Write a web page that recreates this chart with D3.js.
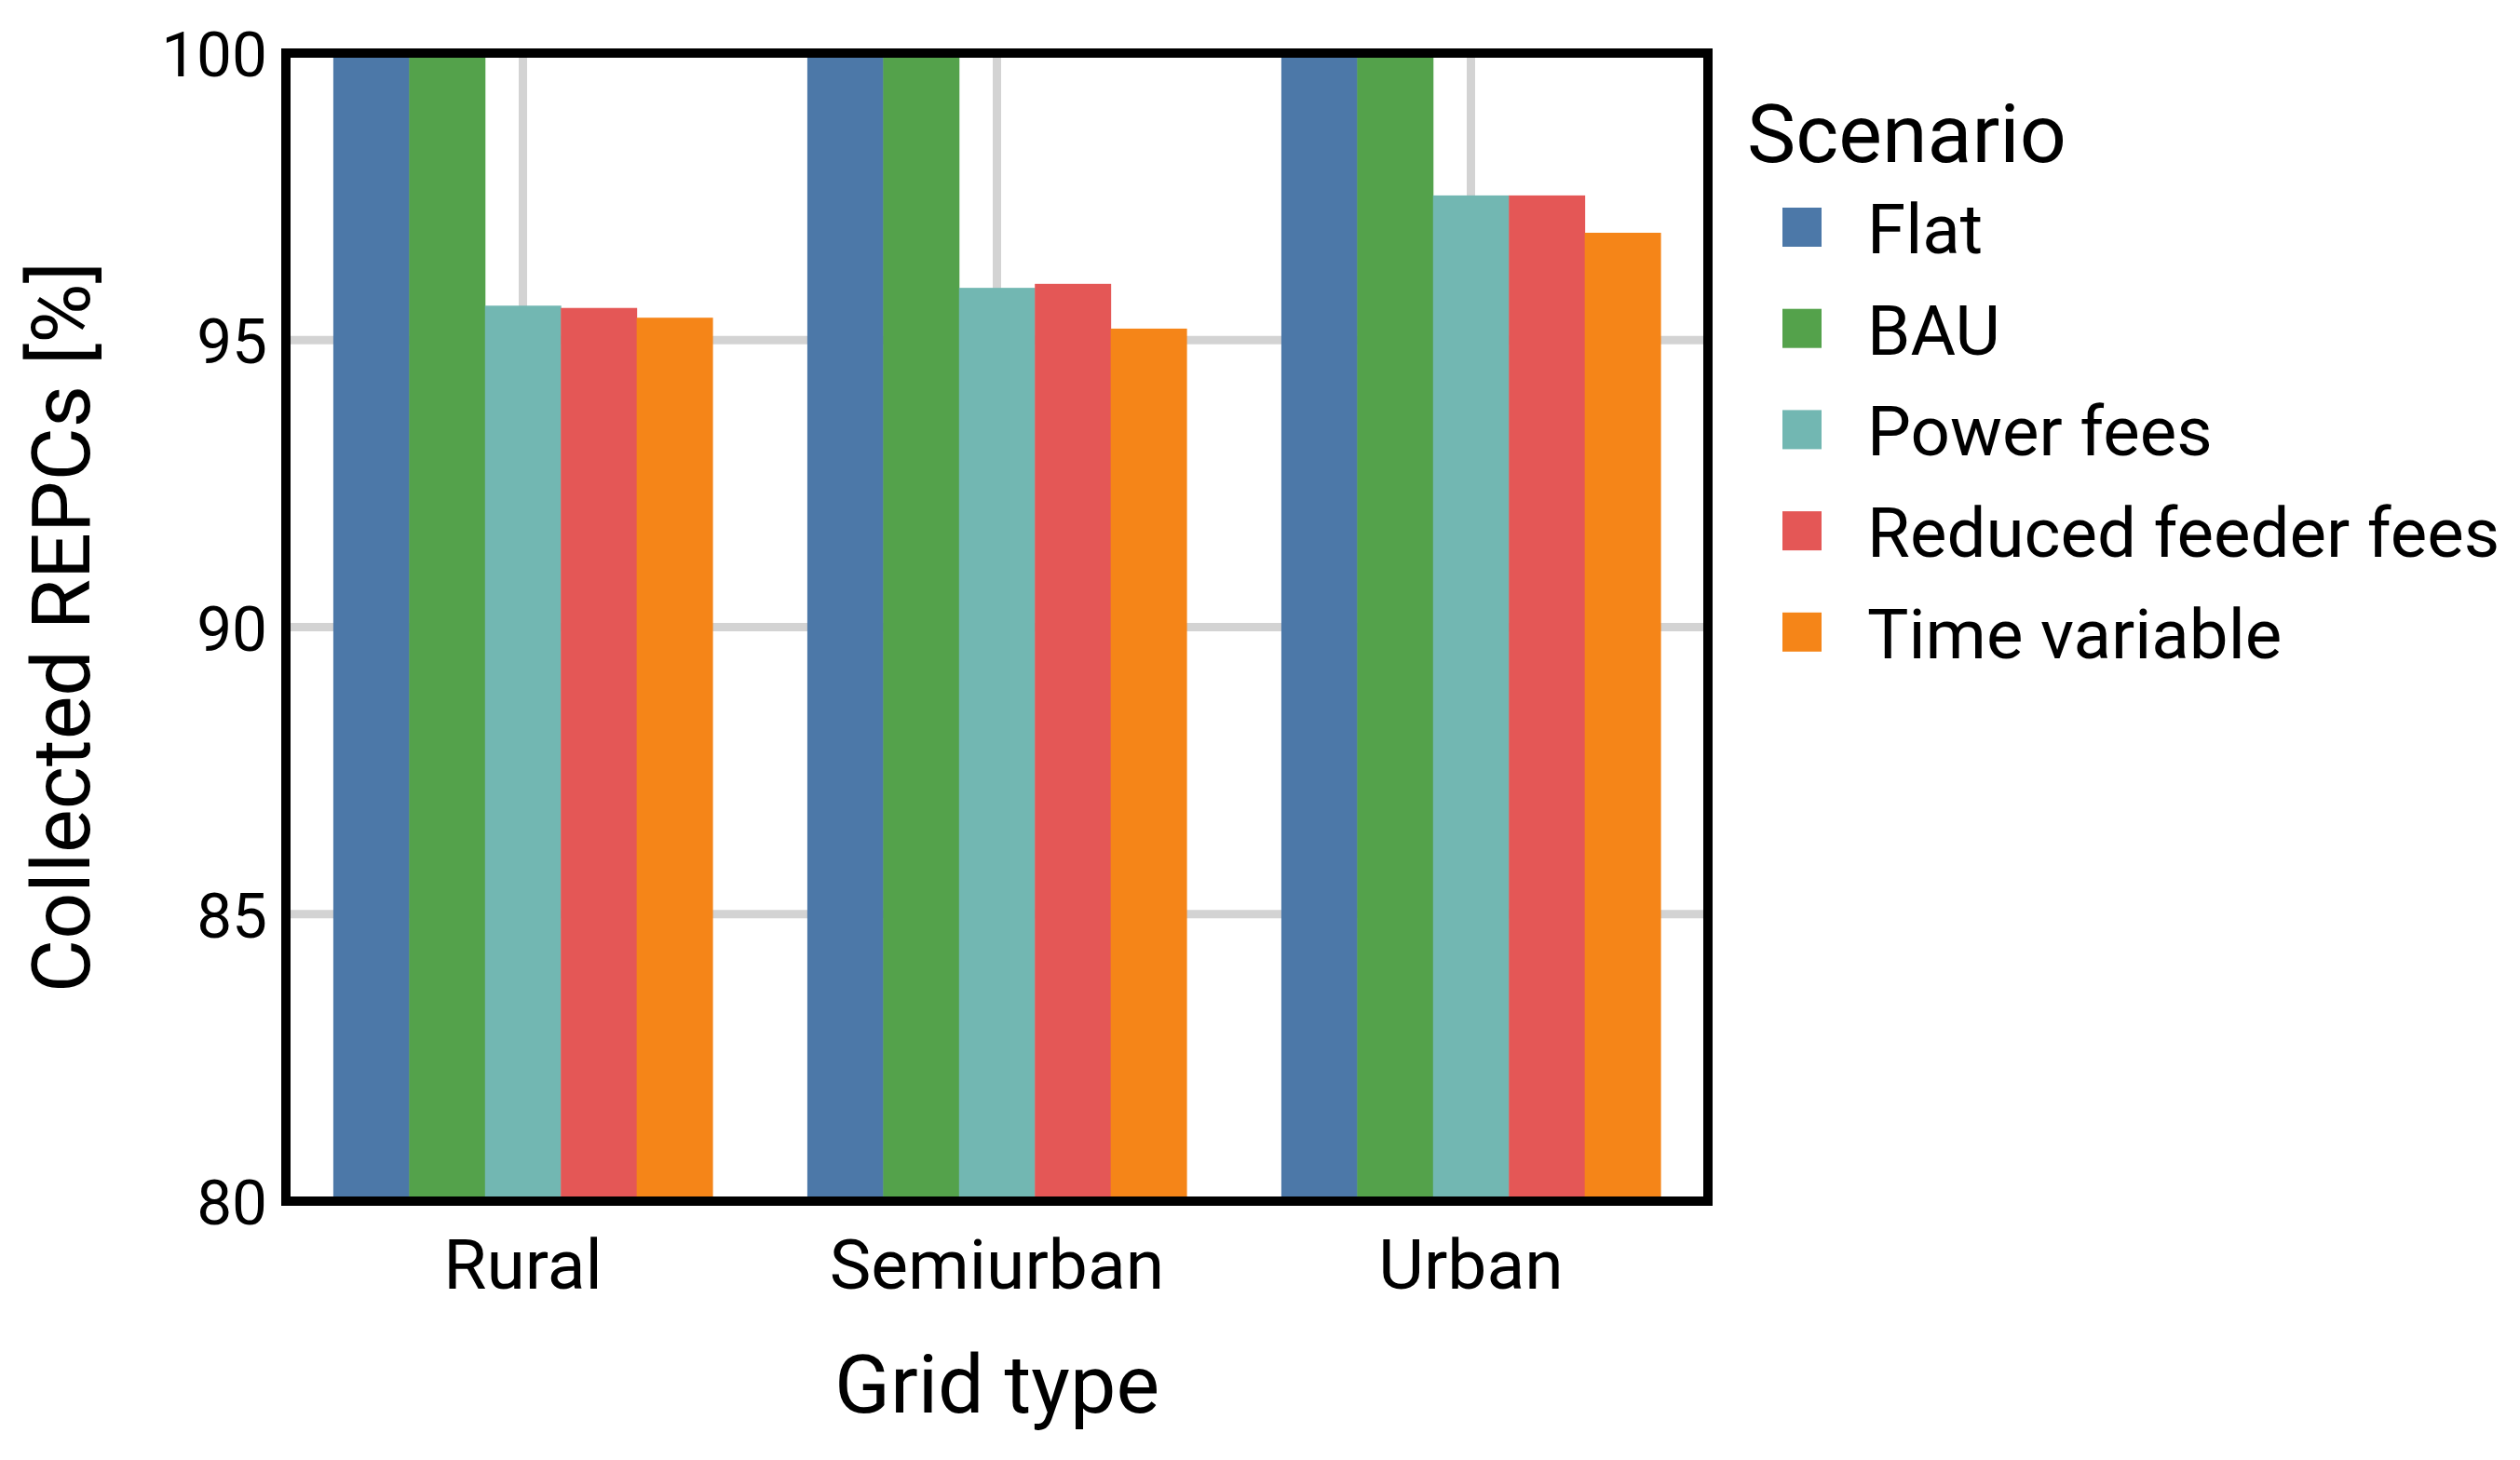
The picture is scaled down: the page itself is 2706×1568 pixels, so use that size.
<!DOCTYPE html>
<html>
<head>
<meta charset="utf-8">
<script src="https://cdn.jsdelivr.net/npm/d3@7"></script>
<style>
  body { margin: 0; background: #fff; }
  text { font-family: Roboto, "Noto Sans", sans-serif; fill: #000; }
</style>
</head>
<body>
<div id="chart"></div>
<script>
// data
var gridTypes = ["Rural", "Semiurban", "Urban"];
var scenarios = ["Flat", "BAU", "Power fees", "Reduced feeder fees", "Time variable"];
var colors = ["#4c78a8", "#54a24b", "#72b7b2", "#e45756", "#f58518"];
var flat = [100, 100, 100];
var bau = [100, 100, 100];
var powerFees = [95.6, 95.91, 97.52];
var reducedFeeder = [95.56, 95.98, 97.52];
var timeVariable = [95.39, 95.2, 96.87];
var yTicks = [80, 85, 90, 95, 100];

var seriesValues = [flat, bau, powerFees, reducedFeeder, timeVariable];

var W = 2706, H = 1568;
// plot frame (note: "top" is reserved on window, so use plot_* names)
var plot_left = 307, plot_right = 1834, plot_top = 57, plot_bottom = 1290;

var svg = d3.select("#chart").append("svg")
	.attr("width", W)
	.attr("height", H);

var x0 = d3.scaleBand().domain(gridTypes).range([plot_left, plot_right]).paddingInner(0.2).paddingOuter(0.1);
var x1 = d3.scaleBand().domain(scenarios).range([0, x0.bandwidth()]);
var y = d3.scaleLinear().domain([80, 100]).range([plot_bottom, plot_top]);
var color = d3.scaleOrdinal().domain(scenarios).range(colors);

// grid lines
var grid = svg.append("g");
grid.selectAll("line.h")
	.data(yTicks.filter(function(d){ return d > 80 && d < 100; }))
	.enter().append("line")
	.attr("x1", plot_left).attr("x2", plot_right)
	.attr("y1", function(d){ return y(d); })
	.attr("y2", function(d){ return y(d); })
	.attr("stroke", "#d3d3d3")
	.attr("stroke-width", 9);
grid.selectAll("line.v")
	.data(gridTypes)
	.enter().append("line")
	.attr("x1", function(d){ return x0(d) + x0.bandwidth()/2; })
	.attr("x2", function(d){ return x0(d) + x0.bandwidth()/2; })
	.attr("y1", plot_top).attr("y2", plot_bottom)
	.attr("stroke", "#d3d3d3")
	.attr("stroke-width", 9);

// bars
var rows = [];
gridTypes.forEach(function(g, gi){
	scenarios.forEach(function(s, si){
		rows.push({grid: g, scenario: s, value: seriesValues[si][gi]});
	});
});

svg.append("g").selectAll("rect")
	.data(rows)
	.enter().append("rect")
	.attr("x", function(d){ return x0(d.grid) + x1(d.scenario); })
	.attr("width", x1.bandwidth() + 0.5)
	.attr("y", function(d){ return y(d.value); })
	.attr("height", function(d){ return y(80) - y(d.value); })
	.attr("fill", function(d){ return color(d.scenario); });

// frame
svg.append("rect")
	.attr("x", plot_left).attr("y", plot_top)
	.attr("width", plot_right - plot_left).attr("height", plot_bottom - plot_top)
	.attr("fill", "none")
	.attr("stroke", "#000")
	.attr("stroke-width", 10);

// y tick labels
svg.append("g").selectAll("text")
	.data(yTicks)
	.enter().append("text")
	.attr("x", 287)
	.attr("y", function(d){ return y(d) + 25; })
	.attr("text-anchor", "end")
	.style("font-size", "67.5px")
	.text(function(d){ return d; });

// x tick labels
svg.append("g").selectAll("text")
	.data(gridTypes)
	.enter().append("text")
	.attr("x", function(d){ return x0(d) + x0.bandwidth()/2; })
	.attr("y", 1384)
	.attr("text-anchor", "middle")
	.style("font-size", "75px")
	.text(function(d){ return d; });

// axis titles
svg.append("text")
	.attr("x", (plot_left + plot_right)/2)
	.attr("y", 1517)
	.attr("text-anchor", "middle")
	.style("font-size", "88px")
	.text("Grid type");

svg.append("text")
	.attr("transform", "translate(96," + ((plot_top + plot_bottom)/2) + ") rotate(-90)")
	.attr("text-anchor", "middle")
	.style("font-size", "88px")
	.text("Collected REPCs [%]");

// legend
var legend = svg.append("g");
legend.append("text")
	.attr("x", 1876)
	.attr("y", 174)
	.style("font-size", "88px")
	.text("Scenario");

var item = legend.selectAll("g.item")
	.data(scenarios)
	.enter().append("g")
	.attr("transform", function(d, i){ return "translate(0," + (244 + i*108.7) + ")"; });
item.append("rect")
	.attr("x", 1914).attr("y", -21)
	.attr("width", 42).attr("height", 42)
	.attr("fill", function(d){ return color(d); });
item.append("text")
	.attr("x", 2005)
	.attr("y", 28)
	.style("font-size", "74.5px")
	.text(function(d){ return d; });
</script>
</body>
</html>
